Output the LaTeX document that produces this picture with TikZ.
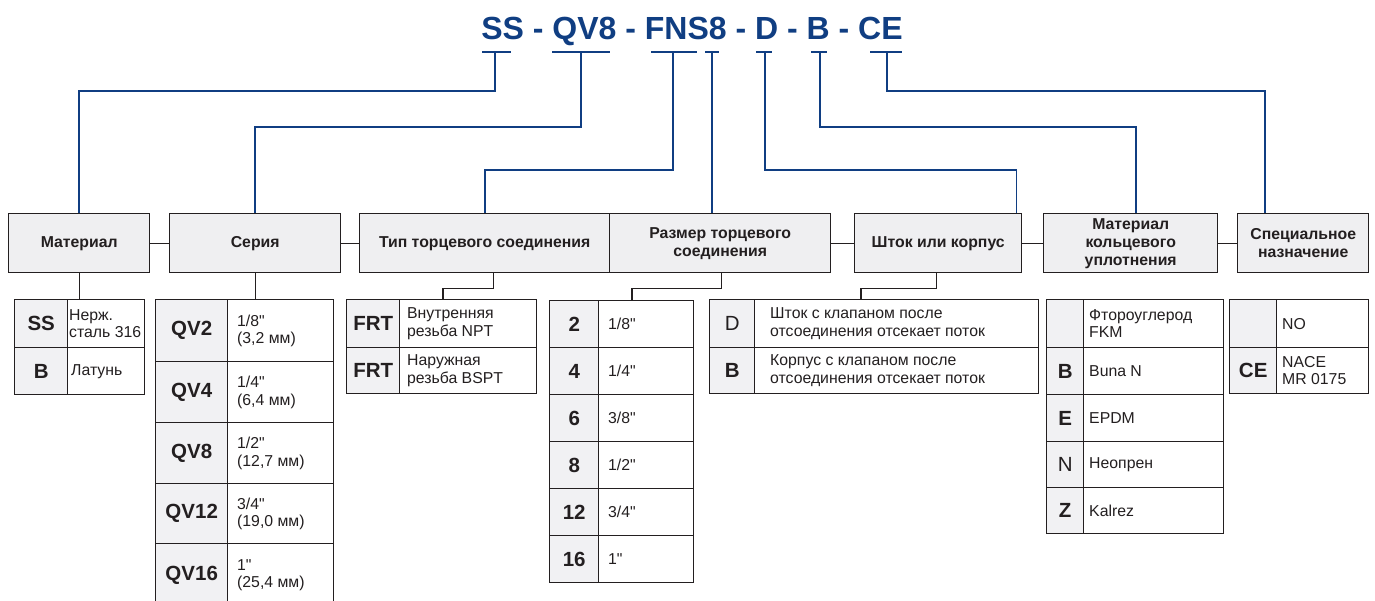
\documentclass[tikz,border=0pt]{standalone}
\usepackage{fontspec}
\setmainfont{Liberation Sans}[Ligatures=TeXOff]
\usetikzlibrary{calc}
\definecolor{navy}{RGB}{16,62,130}
\definecolor{ink}{RGB}{35,31,32}
\definecolor{hdrfill}{RGB}{239,239,241}
\definecolor{keyfill}{RGB}{241,241,243}
\newcommand{\inch}{"}
% #1 name, #2 x left, #3 x divider, #4 x right, #5 y top, #6 y bottom, #7 key, #8 value, #9 text inset
\newcommand{\trow}[9]{%
  \node[keycell, minimum width={#3-#2}, minimum height={#6-#5}, anchor=north west] (#1k) at (#2,#5) {#7};
  \node[valcell, minimum width={#4-#3}, minimum height={#6-#5}, anchor=north west] (#1v) at (#3,#5) {};
  \node[valtext, anchor=west] (#1t) at ($(#1v.west)+(#9,0)$) {#8};
}
\begin{document}
\begin{tikzpicture}[x=1pt,y=-1pt,
  hdr/.style={draw=ink, fill=hdrfill, line width=1.4pt, inner sep=0pt, align=center,
    font=\fontsize{15.8}{18}\selectfont\bfseries, text=ink},
  keycell/.style={draw=ink, fill=keyfill, line width=1.4pt, inner sep=0pt,
    font=\fontsize{20.5}{22}\selectfont, text=ink},
  valcell/.style={draw=ink, fill=white, line width=1.4pt, inner sep=0pt},
  valtext/.style={inner sep=0pt, align=left, font=\fontsize{15.8}{17.5}\selectfont, text=ink},
  bl/.style={draw=navy, line width=1.8pt},
  cn/.style={draw=ink, line width=1.4pt},
  ul/.style={draw=navy, line width=1.8pt}]
\useasboundingbox (0,0) rectangle (1375,600);

% title
\node[anchor=base, text=navy, inner sep=0pt, font=\fontsize{32}{36}\selectfont\bfseries] (title) at (692,39) {SS - QV8 - FNS8 - D - B - CE};
\coordinate (t1) at (495,52); \coordinate (t2) at (581,52); \coordinate (t3) at (673,52);
\coordinate (t4) at (712,52); \coordinate (t5) at (765,52); \coordinate (t6) at (820,52);
\coordinate (t7) at (887,52);
\draw[ul] (482,52) -- (511,52);
\draw[ul] (552,52) -- (610,52);
\draw[ul] (651,52) -- (697,52);
\draw[ul] (705,52) -- (719,52);
\draw[ul] (756,52) -- (772,52);
\draw[ul] (811,52) -- (827,52);
\draw[ul] (870,52) -- (902,52);
\coordinate (h1) at (0,91); \coordinate (h2) at (0,127); \coordinate (h3) at (0,170);

% headers
\node[hdr, minimum width=141, minimum height=59, anchor=north west] (mat) at (8,213) {Материал};
\node[hdr, minimum width=171, minimum height=59, anchor=north west] (ser) at (169,213) {Серия};
\node[hdr, minimum width=250, minimum height=59, anchor=north west] (tip) at (359,213) {Тип торцевого соединения};
\node[hdr, minimum width=221, minimum height=59, anchor=north west] (raz) at (609,213) {Размер торцевого\\соединения};
\node[hdr, minimum width=167, minimum height=59, anchor=north west] (sht) at (854,213) {Шток или корпус};
\node[hdr, minimum width=174, minimum height=59, anchor=north west] (seal) at (1043,213) {Материал\\кольцевого\\уплотнения};
\node[hdr, minimum width=131, minimum height=59, anchor=north west] (spec) at (1237,213) {Специальное\\назначение};

% tables
\trow{mat1}{14}{67}{144}{299}{347}{\bfseries SS}{Нерж.\\сталь 316}{2}
\trow{mat2}{14}{67}{144}{347}{394}{\bfseries B}{Латунь}{4}

\trow{ser1}{155}{227}{333}{299}{361}{\bfseries QV2}{1/8\inch\\(3,2 мм)}{10}
\trow{ser2}{155}{227}{333}{361}{422}{\bfseries QV4}{1/4\inch\\(6,4 мм)}{10}
\trow{ser3}{155}{227}{333}{422}{483}{\bfseries QV8}{1/2\inch\\(12,7 мм)}{10}
\trow{ser4}{155}{227}{333}{483}{543}{\bfseries QV12}{3/4\inch\\(19,0 мм)}{10}
\trow{ser5}{155}{227}{333}{543}{606}{\bfseries QV16}{1\inch\\(25,4 мм)}{10}

\trow{tip1}{346}{399}{536}{299}{347}{\bfseries FRT}{Внутренняя\\резьба NPT}{8}
\trow{tip2}{346}{399}{536}{347}{393}{\bfseries FRT}{Наружная\\резьба BSPT}{8}

\trow{raz1}{549}{598}{693}{300}{347}{\bfseries 2}{1/8\inch}{10}
\trow{raz2}{549}{598}{693}{347}{394}{\bfseries 4}{1/4\inch}{10}
\trow{raz3}{549}{598}{693}{394}{441}{\bfseries 6}{3/8\inch}{10}
\trow{raz4}{549}{598}{693}{441}{488}{\bfseries 8}{1/2\inch}{10}
\trow{raz5}{549}{598}{693}{488}{535}{\bfseries 12}{3/4\inch}{10}
\trow{raz6}{549}{598}{693}{535}{582}{\bfseries 16}{1\inch}{10}

\trow{sht1}{709}{754}{1038}{299}{347}{D}{Шток с клапаном после\\отсоединения отсекает поток}{16}
\trow{sht2}{709}{754}{1038}{347}{393}{\bfseries B}{Корпус с клапаном после\\отсоединения отсекает поток}{16}

\trow{seal1}{1046}{1083}{1223}{299}{347}{}{Фтороуглерод\\FKM}{6}
\trow{seal2}{1046}{1083}{1223}{347}{394}{\bfseries B}{Buna N}{6}
\trow{seal3}{1046}{1083}{1223}{394}{441}{\bfseries E}{EPDM}{6}
\trow{seal4}{1046}{1083}{1223}{441}{487}{N}{Неопрен}{6}
\trow{seal5}{1046}{1083}{1223}{487}{533}{\bfseries Z}{Kalrez}{6}

\trow{spec1}{1229}{1276}{1368}{299}{347}{}{NO}{6}
\trow{spec2}{1229}{1276}{1368}{347}{393}{\bfseries CE}{NACE\\MR 0175}{6}

% blue connectors
\draw[bl] (t1) -- (t1 |- h1) -| (mat.north);
\draw[bl] (t2) -- (t2 |- h2) -| (ser.north);
\draw[bl] (t3) -- (t3 |- h3) -| (tip.north);
\draw[bl] (t4) -- (t4 |- raz.north);
\draw[bl] (t5) -- (t5 |- h3) -| ($(sht.north east)+(-6,0)$);
\draw[bl] (t6) -- (t6 |- h2) -| ($(seal.north)+(5,0)$);
\draw[bl] (t7) -- (t7 |- h1) -| ($(spec.north west)+(28,0)$);

% header links
\draw[cn] (mat.east) -- (ser.west);
\draw[cn] (ser.east) -- (tip.west);
\draw[cn] (raz.east) -- (sht.west);
\draw[cn] (sht.east) -- (seal.west);
\draw[cn] (seal.east) -- (spec.west);

% header to table
\draw[cn] (mat.south) -- (mat.south |- mat1v.north);
\draw[cn] (ser.south) -- (ser.south |- ser1v.north);
\draw[cn] ($(tip.south)+(9,0)$) -- ++(0,15) -| ($(tip1v.north west)+(44,0)$);
\draw[cn] ($(raz.south)+(1.5,0)$) -- ++(0,15) -| ($(raz1v.north west)+(34,0)$);
\draw[cn] ($(sht.south)+(-1.5,0)$) -- ++(0,15) -| ($(sht1v.north west)+(107,0)$);
\draw[cn] ($(seal.south)+(4,0)$) -- ($(seal.south)+(4,0)$ |- seal1v.north);
\draw[cn] ($(spec.south)+(-3.5,0)$) -- ($(spec.south)+(-3.5,0)$ |- spec1v.north);
\end{tikzpicture}
\end{document}
